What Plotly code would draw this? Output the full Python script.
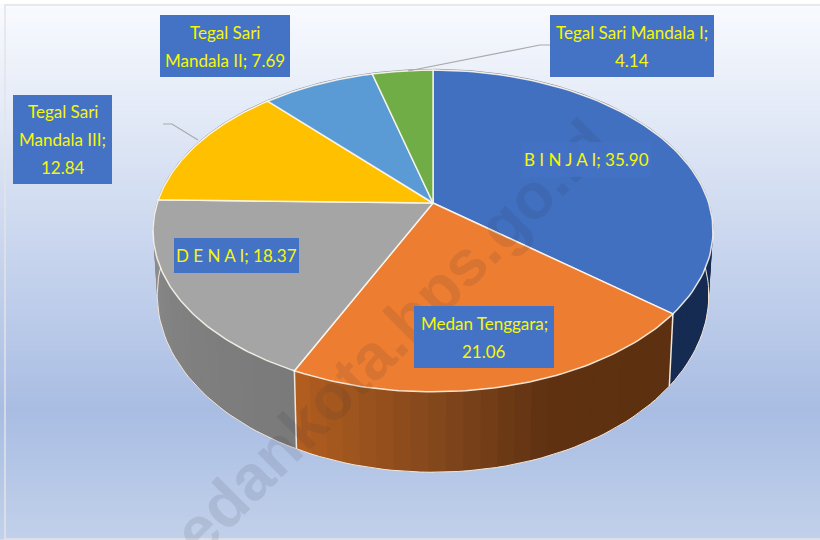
import numpy as np
import plotly.graph_objects as go

# ---- data ----
names = ["B I N J A I", "Medan Tenggara", "D E N A I",
         "Tegal Sari Mandala III", "Tegal Sari Mandala II", "Tegal Sari Mandala I"]
values = [35.90, 21.06, 18.37, 12.84, 7.69, 4.14]
top_colors = ["#4170c0", "#ed7d31", "#a5a5a5", "#ffc000", "#5b9bd5", "#70ad47"]

# side-wall shading: (angle, rgb) stops
side_stops = {
    0: [(60, (20, 42, 82)), (130, (22, 44, 82))],
    1: [(129, (92, 48, 16)), (160, (96, 50, 18)), (180, (132, 72, 28)), (206, (182, 96, 32))],
    2: [(205, (122, 122, 122)), (240, (130, 130, 130)), (275, (146, 146, 146))],
}

label_lines = [
    ["B I N J A I; 35.90"],
    ["Medan Tenggara;", "21.06"],
    ["D E N A I; 18.37"],
    ["Tegal Sari", "Mandala III;", "12.84"],
    ["Tegal Sari", "Mandala II; 7.69"],
    ["Tegal Sari Mandala I;", "4.14"],
]
label_boxes = [  # x0, x1, y0, y1
    (522, 651, 142, 177), (414, 554, 306, 368), (174, 299, 238, 273),
    (13, 112, 95, 184), (160, 290, 15, 77), (550, 714, 15, 77),
]
leader_x = [[163, 172, 198], [550, 540, 408]]
leader_y = [[124, 124, 140], [45, 45, 71]]

bg_y = [6, 410, 539]
bg_c = ["#f8fafe", "#a9bde3", "#c2d1ea"]

# ---- projection of the tilted disc ----
CX, CY, RX, SY, K = 433.0, 203.0, 275.7, 156.0, 0.174
BOT_S, BOT_CY, BOT_SY = 0.985, 264.0, 172.0


def top_pt(a):
    a = np.radians(a)
    w = 1 - K * (-np.cos(a))
    return CX + RX * np.sin(a) / w, CY + SY * (-np.cos(a)) / w


def bot_pt(a):
    a = np.radians(a)
    w = 1 - K * (-np.cos(a))
    return CX + BOT_S * RX * np.sin(a) / w, BOT_CY + BOT_SY * (-np.cos(a)) / w


edges = np.cumsum([0] + values) / sum(values) * 360.0
fig = go.Figure()

# background gradient
ys = np.linspace(bg_y[0], bg_y[-1], 120)
scale = [[(y - bg_y[0]) / (bg_y[-1] - bg_y[0]), c] for y, c in zip(bg_y, bg_c)]
fig.add_trace(go.Heatmap(x=[6, 820], y=ys, z=[[y, y] for y in ys], colorscale=scale,
                         zsmooth="best", showscale=False, hoverinfo="skip"))

# side walls: later strips overlap earlier ones, so no seams show
VIS0, VIS1 = 84.0, 282.0
for i, stops in side_stops.items():
    a0, a1 = max(edges[i], VIS0), min(edges[i + 1], VIS1)
    grid = np.linspace(a0, a1, max(2, int((a1 - a0) / 3) + 1))
    sa = [s[0] for s in stops]
    step = grid[1] - grid[0]
    for g0, g1 in zip(grid[:-1], grid[1:]):
        m = (g0 + g1) / 2
        rgb = [int(np.interp(m, sa, [s[1][c] for s in stops])) for c in range(3)]
        col = f"rgb({rgb[0]},{rgb[1]},{rgb[2]})"
        arc = np.linspace(g0, min(g1 + step * 0.6, a1), 4)
        tx, ty = top_pt(arc)
        bx, by = bot_pt(arc[::-1])
        fig.add_trace(go.Scatter(x=np.r_[tx, bx], y=np.r_[ty, by], mode="lines", fill="toself",
                                 fillcolor=col, line=dict(width=0),
                                 hoverinfo="skip", showlegend=False))

# bottom outline and wall dividers
arc = np.linspace(VIS0, VIS1, 120)
bx, by = bot_pt(arc)
fig.add_trace(go.Scatter(x=bx, y=by, mode="lines", line=dict(color="#f3e6d8", width=1),
                         hoverinfo="skip", showlegend=False))
for e in edges[1:3]:
    tx, ty = top_pt(e)
    bx, by = bot_pt(e)
    fig.add_trace(go.Scatter(x=[tx, bx], y=[ty, by], mode="lines", line=dict(color="#efe6dc", width=1.5),
                             hoverinfo="skip", showlegend=False))

# back rim
arc = np.linspace(-100, 100, 200)
tx, ty = top_pt(arc)
fig.add_trace(go.Scatter(x=tx, y=ty - 0.8, mode="lines", line=dict(color="#8f939c", width=1),
                         hoverinfo="skip", showlegend=False))

# top slices
for i in range(len(values)):
    arc = np.linspace(edges[i], edges[i + 1], 80)
    tx, ty = top_pt(arc)
    fig.add_trace(go.Scatter(x=np.r_[CX, tx, CX], y=np.r_[CY, ty, CY], mode="lines", fill="toself",
                             fillcolor=top_colors[i], line=dict(color="rgba(255,250,240,0.85)", width=1.5),
                             name=names[i], hovertemplate="%{fullData.name}<extra></extra>",
                             showlegend=False))

# leader lines
for lx, ly in zip(leader_x, leader_y):
    fig.add_trace(go.Scatter(x=lx, y=ly, mode="lines", line=dict(color="#a9a9ad", width=1.2),
                             hoverinfo="skip", showlegend=False))

# watermark, under the labels
ann = [dict(x=371, y=357, xref="x", yref="y", text="<b>medankota.bps.go.id</b>", textangle=-45,
            showarrow=False, font=dict(family="Liberation Sans", size=64, color="rgba(50,50,60,0.11)"))]

# labels
FONT = dict(family="Lato", size=17, color="#f6f60a")
LINE_H = 28
for i, (lines, box) in enumerate(zip(label_lines, label_boxes)):
    x0, x1, y0, y1 = box
    bg = "rgba(68,114,196,0.85)" if i == 0 else "#4472c4"
    ann.append(dict(x=(x0 + x1) / 2, y=(y0 + y1) / 2, xref="x", yref="y", text=" ", showarrow=False,
                    width=x1 - x0, height=y1 - y0, bgcolor=bg, borderpad=0, borderwidth=0,
                    xanchor="center", yanchor="middle"))
    n = len(lines)
    for j, t in enumerate(lines):
        ann.append(dict(x=(x0 + x1) / 2, y=(y0 + y1) / 2 + (j - (n - 1) / 2) * LINE_H, xref="x", yref="y",
                        text=t, showarrow=False, font=FONT, xanchor="center", yanchor="middle"))

fig.update_layout(
    width=820, height=540, margin=dict(l=0, r=0, t=0, b=0), showlegend=False,
    paper_bgcolor="white", plot_bgcolor="white",
    xaxis=dict(range=[0, 820], visible=False, fixedrange=True),
    yaxis=dict(range=[540, 0], visible=False, fixedrange=True),
    annotations=ann,
    shapes=[dict(type="rect", x0=5, y0=5, x1=830, y1=539, line=dict(color="#e2e3e6", width=1.5), layer="above")],
)
fig.write_html("out.html", config=dict(displayModeBar=False),
               post_script="document.body.style.margin='0';document.body.style.overflow='hidden';")
